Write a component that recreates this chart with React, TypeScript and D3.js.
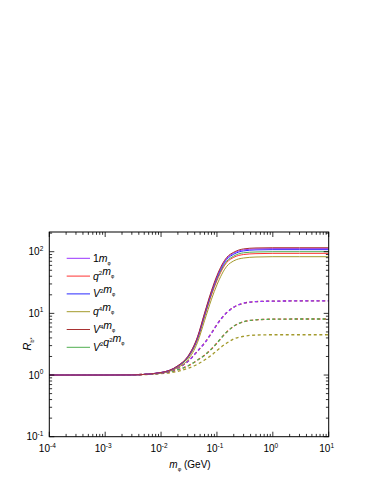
import React from 'react';
import * as d3 from 'd3';

// m_phi grid (GeV) shared by all curves
const mass = [1e-4, 1e-3, 3e-3, 0.01, 0.02, 0.03, 0.045, 0.06, 0.08, 0.1, 0.15, 0.2, 0.3, 0.5, 1, 3, 10];

// solid curves
const solid1m = [1, 1, 1.005, 1.1, 1.41, 1.98, 4.1, 9.8, 22.5, 39, 78, 95, 107, 111, 112, 112, 112];
const solidQ2 = [1, 1, 1.005, 1.09, 1.37, 1.88, 3.8, 8.8, 20, 34, 67, 81, 90, 93, 94, 94, 94];
const solidV2 = [1, 1, 1.005, 1.1, 1.4, 1.95, 4.0, 9.5, 22, 38, 75, 91, 103, 107, 108, 108, 108];
const solidQ4 = [1, 1, 1.005, 1.08, 1.32, 1.75, 3.4, 7.6, 17, 29, 58, 71, 79, 82, 83, 83, 83];
const solidV4 = [1, 1, 1.005, 1.1, 1.42, 2.0, 4.2, 10.1, 23.5, 41, 81, 98, 111, 115, 116, 116, 116];
const solidV2Q2 = [1, 1, 1.005, 1.09, 1.38, 1.9, 3.9, 9.1, 21, 36, 70, 85, 96, 99, 100, 100, 100];

// dashed curves
const dash1m = [1, 1, 1.01, 1.08, 1.3, 1.65, 2.45, 3.3, 4.8, 6.6, 10.3, 12.6, 14.6, 15.5, 15.8, 15.9, 15.9];
const dashV4 = [1, 1, 1.01, 1.08, 1.3, 1.65, 2.45, 3.3, 4.8, 6.6, 10.3, 12.6, 14.6, 15.5, 15.8, 15.9, 15.9];
const dashQ2 = [1, 1, 1.01, 1.07, 1.22, 1.4, 1.75, 2.1, 2.65, 3.3, 5.0, 6.2, 7.3, 7.85, 8.05, 8.1, 8.1];
const dashV2Q2 = [1, 1, 1.01, 1.07, 1.22, 1.4, 1.75, 2.1, 2.65, 3.3, 5.0, 6.2, 7.3, 7.85, 8.05, 8.1, 8.1];
const dashQ4 = [1, 1, 1.005, 1.05, 1.15, 1.28, 1.5, 1.75, 2.1, 2.5, 3.3, 3.85, 4.25, 4.45, 4.5, 4.5, 4.5];

const colors = {
  m1: '#9933ff',
  q2: '#ff3333',
  v2: '#2a2aff',
  q4: '#a39a2c',
  v4: '#a83232',
  v2q2: '#4fae4f',
};

// legend rows: pieces [text, superscript]
const legendItems: { key: keyof typeof colors; parts: [string, string][]; plain?: boolean }[] = [
  { key: 'm1', parts: [['1', '']], plain: true },
  { key: 'q2', parts: [['q', '2']] },
  { key: 'v2', parts: [['V', '2']] },
  { key: 'q4', parts: [['q', '4']] },
  { key: 'v4', parts: [['V', '4']] },
  { key: 'v2q2', parts: [['V', '2'], ['q', '2']] },
];

const W = 383;
const H = 495;
const left = 49.3, right = 328.7, top = 232, bottom = 436.7;

export default function App() {
  const x = d3.scaleLog().domain([1e-4, 10]).range([left, right]);
  const y = d3.scaleLog().domain([0.1, 100]).range([bottom, 251.7]);

  const line = (vals: number[]) =>
    d3.line<number>()
      .x((_, i) => x(mass[i]))
      .y((d) => y(d))
      .curve(d3.curveMonotoneX)(vals) || '';

  const solids = [
    { v: solidQ4, c: colors.q4 },
    { v: solidQ2, c: colors.q2 },
    { v: solidV2Q2, c: colors.v2q2 },
    { v: solidV2, c: colors.v2 },
    { v: solid1m, c: colors.m1 },
    { v: solidV4, c: colors.v4 },
  ];
  const dashes = [
    { v: dashQ4, c: colors.q4, off: 0 },
    { v: dashQ2, c: colors.q2, off: 0 },
    { v: dashV2Q2, c: colors.v2q2, off: 0.6 },
    { v: dashV4, c: colors.v4, off: 0 },
    { v: dash1m, c: colors.m1, off: 0.5 },
  ];

  const xMajor = d3.range(-4, 2).map((k) => Math.pow(10, k));
  const xMinor: number[] = [];
  d3.range(-4, 1).forEach((k) => d3.range(2, 10).forEach((j) => xMinor.push(j * Math.pow(10, k))));
  const yMajor = [0.1, 1, 10, 100];
  const yMinor: number[] = [];
  d3.range(-1, 3).forEach((k) => d3.range(2, 10).forEach((j) => {
    const v = j * Math.pow(10, k);
    if (y(v) >= top) yMinor.push(v);
  }));

  const font = 'Liberation Sans, Arial, sans-serif';
  const tickLen = 5, minorLen = 2.8;

  return (
    <svg width={W} height={H} style={{ position: 'absolute', left: 0, top: 0, background: '#fff' }}
      fontFamily={font}>
      <defs>
        <clipPath id="plot">
          <rect x={left} y={top} width={right - left} height={bottom - top} />
        </clipPath>
      </defs>

      <g clipPath="url(#plot)" fill="none">
        {dashes.map((d, i) => (
          <path key={'d' + i} d={line(d.v)} stroke={d.c} strokeWidth={1.3}
            strokeDasharray="3,2.6" strokeDashoffset={d.off} />
        ))}
        {solids.map((d, i) => (
          <path key={'s' + i} d={line(d.v)} stroke={d.c} strokeWidth={1} />
        ))}
      </g>

      {/* frame */}
      <rect x={left} y={top} width={right - left} height={bottom - top} fill="none" stroke="#000" strokeWidth={1} />

      {/* ticks, all inward, mirrored on top/right */}
      <g stroke="#000" strokeWidth={0.8}>
        {xMajor.map((v) => (
          <g key={'xM' + v}>
            <line x1={x(v)} x2={x(v)} y1={bottom} y2={bottom - tickLen} />
            <line x1={x(v)} x2={x(v)} y1={top} y2={top + tickLen} />
          </g>
        ))}
        {xMinor.map((v) => (
          <g key={'xm' + v}>
            <line x1={x(v)} x2={x(v)} y1={bottom} y2={bottom - minorLen} />
            <line x1={x(v)} x2={x(v)} y1={top} y2={top + minorLen} />
          </g>
        ))}
        {yMajor.map((v) => (
          <g key={'yM' + v}>
            <line x1={left} x2={left + tickLen} y1={y(v)} y2={y(v)} />
            <line x1={right} x2={right - tickLen} y1={y(v)} y2={y(v)} />
          </g>
        ))}
        {yMinor.map((v) => (
          <g key={'ym' + v}>
            <line x1={left} x2={left + minorLen} y1={y(v)} y2={y(v)} />
            <line x1={right} x2={right - minorLen} y1={y(v)} y2={y(v)} />
          </g>
        ))}
      </g>

      {/* x tick labels */}
      {xMajor.map((v) => (
        <text key={'xl' + v} x={x(v) - 2} y={bottom + 15.5} fontSize={10} textAnchor="middle">
          10<tspan fontSize={6.5} dy={-4.5}>{Math.round(Math.log10(v))}</tspan>
        </text>
      ))}
      {/* y tick labels */}
      {yMajor.map((v) => (
        <text key={'yl' + v} x={left - 6} y={y(v) + 3.5} fontSize={10} textAnchor="end">
          10<tspan fontSize={6.5} dy={-4.5}>{Math.round(Math.log10(v))}</tspan>
        </text>
      ))}

      {/* axis titles */}
      <text x={190} y={468} fontSize={10} textAnchor="middle">
        <tspan fontStyle="italic">m</tspan>
        <tspan fontSize={5.5} dy={3}>φ</tspan>
        <tspan dy={-3}> (GeV)</tspan>
      </text>
      <text transform={`translate(31,${y(3.2)}) rotate(-90)`} fontSize={11} textAnchor="middle">
        <tspan fontStyle="italic">R</tspan>
        <tspan fontSize={5.5} dy={3}>b*</tspan>
      </text>

      {/* legend */}
      {legendItems.map((it, i) => {
        const ly = 258.3 + i * 17.8;
        return (
          <g key={it.key}>
            <line x1={66.7} x2={90} y1={ly} y2={ly} stroke={colors[it.key]} strokeWidth={1} />
            <text x={93} y={ly + 3.5} fontSize={10.5}>
              {it.parts.map(([t, s], j) => (
                <React.Fragment key={j}>
                  <tspan fontStyle={it.plain ? 'normal' : 'italic'}>{t}</tspan>
                  {s ? <tspan fontSize={6} dy={-4.5}>{s}</tspan> : null}
                  {s ? <tspan dy={4.5}>{''}</tspan> : null}
                </React.Fragment>
              ))}
              <tspan fontStyle="italic">m</tspan>
              <tspan fontSize={5} dy={3}>φ</tspan>
            </text>
          </g>
        );
      })}
    </svg>
  );
}
